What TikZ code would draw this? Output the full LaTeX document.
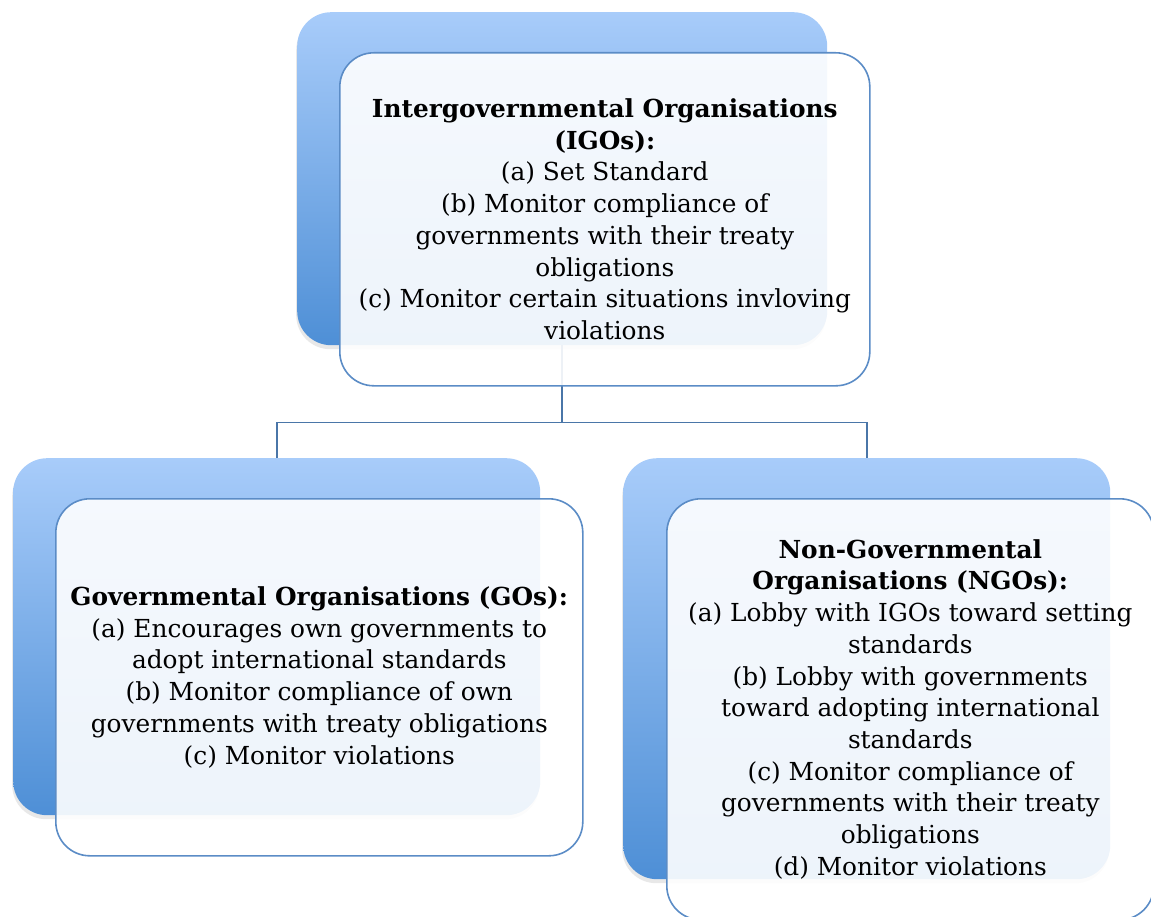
\documentclass[tikz,border=0pt]{standalone}
\usepackage{xcolor}
\usepackage{fontspec}
\setmainfont{DejaVu Serif}
\usepackage{tikz}
\usetikzlibrary{positioning,shadows}

\definecolor{backtop}{RGB}{168,204,250}
\definecolor{backbot}{RGB}{78,143,214}
\definecolor{frameline}{RGB}{91,140,198}
\definecolor{linkline}{RGB}{74,118,168}

\begin{document}
\begin{tikzpicture}[
    x=1pt, y=-1pt,
    backbox/.style={rounded corners=34pt,top color=backtop,bottom color=backbot,
      drop shadow={opacity=0.18,shadow xshift=-1pt,shadow yshift=-4pt}},
    frontbox/.style={draw=frameline,line width=1.6pt,rounded corners=34pt,
      fill=white,fill opacity=0.9,text opacity=1,align=center,
      font=\fontsize{24.8pt}{31.7pt}\selectfont},
    link/.style={draw=linkline,line width=1.8pt}
  ]
    \useasboundingbox (0,0) rectangle (1151,917);

    \node[backbox,anchor=north west,minimum width=530pt,minimum height=333pt] (igoBack) at (297,12) {};
    \node[backbox,anchor=north west,minimum width=527pt,minimum height=357pt] (goBack)  at (13,458) {};
    \node[backbox,anchor=north west,minimum width=487pt,minimum height=421pt] (ngoBack) at (623,458) {};

    \draw[link] (igoBack.south) -- ++(0,77) -| (goBack.north);
    \draw[link] (igoBack.south) -- ++(0,77) -| (ngoBack.north);

    \node[frontbox,below right=40pt and 42pt of igoBack.north west,minimum width=530pt,minimum height=333pt] (igo)
      {\textbf{Intergovernmental Organisations}\\\textbf{(IGOs):}\\(a) Set Standard\\(b) Monitor compliance of\\governments with their treaty\\obligations\\(c) Monitor certain situations invloving\\violations};
    \node[frontbox,below right=40pt and 42pt of goBack.north west,minimum width=527pt,minimum height=357pt] (go)
      {\textbf{Governmental Organisations (GOs):}\\(a) Encourages own governments to\\adopt international standards\\(b) Monitor compliance of own\\governments with treaty obligations\\(c) Monitor violations};
    \node[frontbox,below right=40pt and 43pt of ngoBack.north west,minimum width=487pt,minimum height=421pt] (ngo)
      {\textbf{Non-Governmental}\\\textbf{Organisations (NGOs):}\\(a) Lobby with IGOs toward setting\\standards\\(b) Lobby with governments\\toward adopting international\\standards\\(c) Monitor compliance of\\governments with their treaty\\obligations\\(d) Monitor violations};
\end{tikzpicture}
\end{document}
